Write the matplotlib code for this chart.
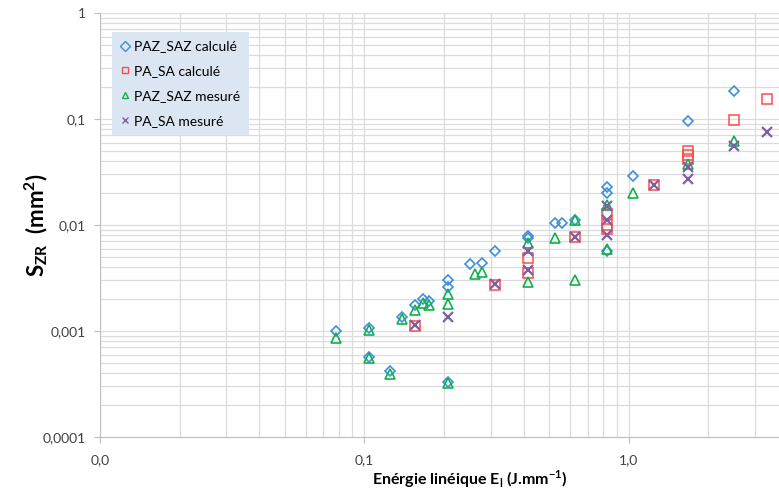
import matplotlib.pyplot as plt
from matplotlib.ticker import FixedLocator, FixedFormatter, NullFormatter, LogLocator

plt.rcParams['font.family'] = ['Lato', 'DejaVu Sans']
plt.rcParams['mathtext.fontset'] = 'custom'
plt.rcParams['mathtext.rm'] = 'Lato'
plt.rcParams['mathtext.bf'] = 'Lato:bold'

# PAZ_SAZ calculé (losanges)
paz_calc_x = [0.078, 0.104, 0.104, 0.125, 0.139, 0.156, 0.167, 0.175, 0.208, 0.208, 0.208,
              0.25, 0.278, 0.3125, 0.417, 0.417, 0.525, 0.557, 0.625, 0.83, 0.83, 0.83,
              1.04, 1.67, 2.5]
paz_calc_y = [0.001, 0.00107, 0.00057, 0.00042, 0.00137, 0.00176, 0.002, 0.00192, 0.003, 0.0026, 0.00033,
              0.0043, 0.0044, 0.0057, 0.0079, 0.0076, 0.0105, 0.0105, 0.0112, 0.0228, 0.02, 0.0057,
              0.029, 0.096, 0.184]

# PA_SA calculé (carrés)
pa_calc_x = [0.156, 0.3125, 0.417, 0.417, 0.625, 0.83, 0.83, 0.83, 1.25, 1.67, 1.67, 1.67, 2.5, 3.33]
pa_calc_y = [0.00111, 0.0027, 0.0049, 0.0035, 0.0077, 0.0128, 0.0099, 0.0092, 0.024, 0.0499, 0.0457, 0.042,
             0.098, 0.155]

# PAZ_SAZ mesuré (triangles)
paz_mes_x = [0.078, 0.104, 0.104, 0.125, 0.139, 0.156, 0.167, 0.175, 0.208, 0.208, 0.208,
             0.261, 0.278, 0.417, 0.417, 0.525, 0.625, 0.625, 0.83, 0.83, 1.04, 1.67, 2.5]
paz_mes_y = [0.00086, 0.00102, 0.000556, 0.00039, 0.0013, 0.00158, 0.00184, 0.00176, 0.00223, 0.0018, 0.00032,
             0.00345, 0.0036, 0.0068, 0.0029, 0.0075, 0.0111, 0.003, 0.0154, 0.0059, 0.02, 0.0376, 0.062]

# PA_SA mesuré (croix)
pa_mes_x = [0.156, 0.208, 0.3125, 0.417, 0.417, 0.625, 0.83, 0.83, 0.83, 1.25, 1.67, 1.67, 2.5, 3.33]
pa_mes_y = [0.00114, 0.00135, 0.0028, 0.0057, 0.0038, 0.0077, 0.0152, 0.0111, 0.008, 0.024, 0.0352, 0.0272,
            0.0556, 0.0754]

fig = plt.figure(figsize=(7.79, 4.97), dpi=100)
ax = fig.add_axes([100 / 779, 1 - 437 / 497, 1 - 100 / 779, 424 / 497])

ax.plot(paz_calc_x, paz_calc_y, 'D', ls='none', ms=5.5, mfc='none', mec='#3F8FDA', mew=1.2,
        label='PAZ_SAZ calculé')
ax.plot(pa_calc_x, pa_calc_y, 's', ls='none', ms=7, mfc='none', mec='#FF4B4B', mew=1.1,
        label='PA_SA calculé')
ax.plot(paz_mes_x, paz_mes_y, '^', ls='none', ms=7.5, mfc='none', mec='#12B04E', mew=1.2,
        label='PAZ_SAZ mesuré')
ax.plot(pa_mes_x, pa_mes_y, 'x', ls='none', ms=7, mec='#7B5FA8', mew=1.6,
        label='PA_SA mesuré')

ax.set_xscale('log')
ax.set_yscale('log')
ax.set_xlim(0.01, 3.70)
ax.set_ylim(0.0001, 1)

ax.xaxis.set_major_locator(FixedLocator([0.01, 0.1, 1.0]))
ax.xaxis.set_major_formatter(FixedFormatter(['0,0', '0,1', '1,0']))
ax.xaxis.set_minor_locator(LogLocator(base=10, subs=range(2, 10)))
ax.xaxis.set_minor_formatter(NullFormatter())
ax.yaxis.set_major_locator(FixedLocator([0.0001, 0.001, 0.01, 0.1, 1]))
ax.yaxis.set_major_formatter(FixedFormatter(['0,0001', '0,001', '0,01', '0,1', '1']))
ax.yaxis.set_minor_locator(LogLocator(base=10, subs=range(2, 10)))
ax.yaxis.set_minor_formatter(NullFormatter())

ax.grid(True, which='both', color='#DCDCDC', lw=0.9)
ax.set_axisbelow(True)
ax.tick_params(which='major', length=4, color='#BFBFBF', labelsize=10, labelcolor='#404040', pad=6)
ax.tick_params(axis='x', which='major', pad=8)
ax.tick_params(which='minor', length=0)
for s in ['top', 'right']:
    ax.spines[s].set_visible(False)
for s in ['left', 'bottom']:
    ax.spines[s].set_color('#BFBFBF')

ax.set_xlabel(r'Enérgie linéique E$_\mathbf{l}$ (J.mm$^\mathbf{-1}$)', fontsize=11.5, fontweight='bold')
ax.xaxis.set_label_coords(0.545, -0.075)
ax.set_ylabel(r'S$_\mathbf{ZR}$  (mm$^\mathbf{2}$)', fontsize=16, fontweight='bold')
ax.yaxis.set_label_coords(-0.074, 0.5)

leg = ax.legend(loc='upper left', bbox_to_anchor=(0.018, 0.955), fontsize=10, frameon=True,
                fancybox=False, facecolor='#DCE6F2', edgecolor='none', framealpha=1,
                handlelength=0.6, handletextpad=0.4, labelspacing=0.92, borderpad=0.6,
                borderaxespad=0)
for h in leg.legend_handles:
    h.set_markersize(5)
    h.set_markeredgewidth(1.0)

fig.savefig('out.png', dpi=100)
